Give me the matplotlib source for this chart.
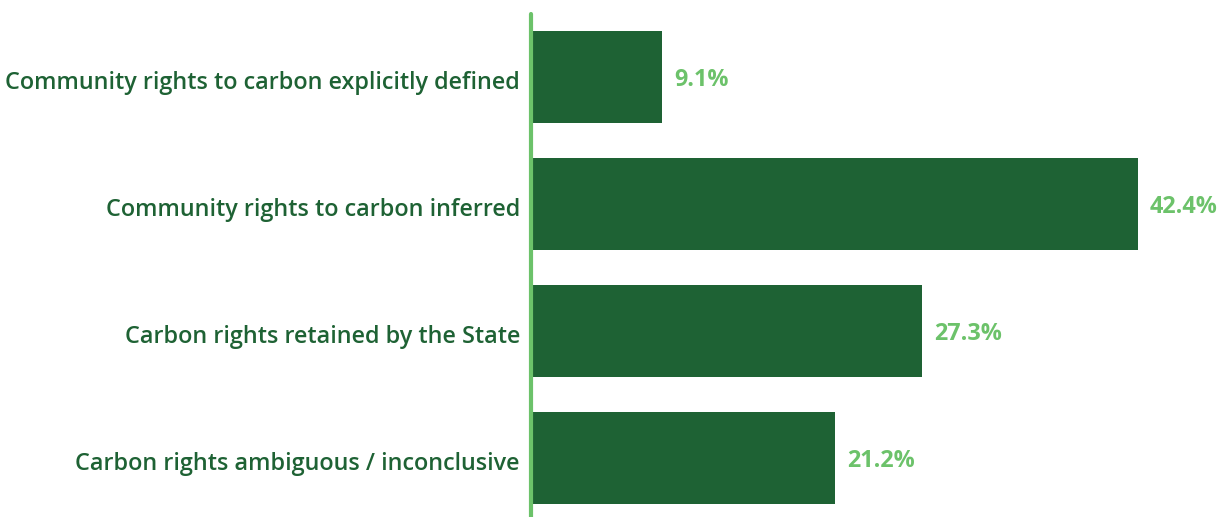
import matplotlib
matplotlib.use("Agg")
import matplotlib.pyplot as plt
import matplotlib.transforms as mtransforms

categories = [
    "Community rights to carbon explicitly defined",
    "Community rights to carbon inferred",
    "Carbon rights retained by the State",
    "Carbon rights ambiguous / inconclusive",
]
values = [9.1, 42.4, 27.3, 21.2]
value_labels = ["9.1%", "42.4%", "27.3%", "21.2%"]

BAR = "#1e6234"
LIGHT = "#6cc26a"
W, H = 1228, 517
fig = plt.figure(figsize=(W / 100, H / 100), dpi=100)
left_px, right_px = 531, 1218
ax = fig.add_axes([left_px / W, 0, (right_px - left_px) / W, 505 / H])
xmax = (right_px - left_px) / 14.29
ax.set_xlim(0, xmax)
ax.set_ylim(3.465, -0.512)

pos = list(range(len(categories)))
ax.barh(pos, values, height=0.724, color=BAR, left=0.07)
for p, v, lab in zip(pos, values, value_labels):
    ax.annotate(lab, (v + 0.07, p), xytext=(12, -3), textcoords="offset pixels",
                va="center", ha="left", color=LIGHT, fontsize=16.8,
                fontweight="bold", family="Open Sans")

ax.set_yticks(pos)
ax.set_yticklabels(categories, fontsize=16.8, fontweight="semibold",
                   family="Open Sans", color=BAR)
ax.tick_params(axis="y", length=0, pad=8)
off = mtransforms.ScaledTranslation(0, -3 / 100, fig.dpi_scale_trans)
for t in ax.get_yticklabels():
    t.set_transform(t.get_transform() + off)
ax.set_xticks([])
for s in ax.spines.values():
    s.set_visible(False)
ax.plot([0, 0], [3.465, -0.5], color=LIGHT, lw=3, solid_capstyle="round",
        clip_on=False)

fig.savefig("out.png", dpi=100)
